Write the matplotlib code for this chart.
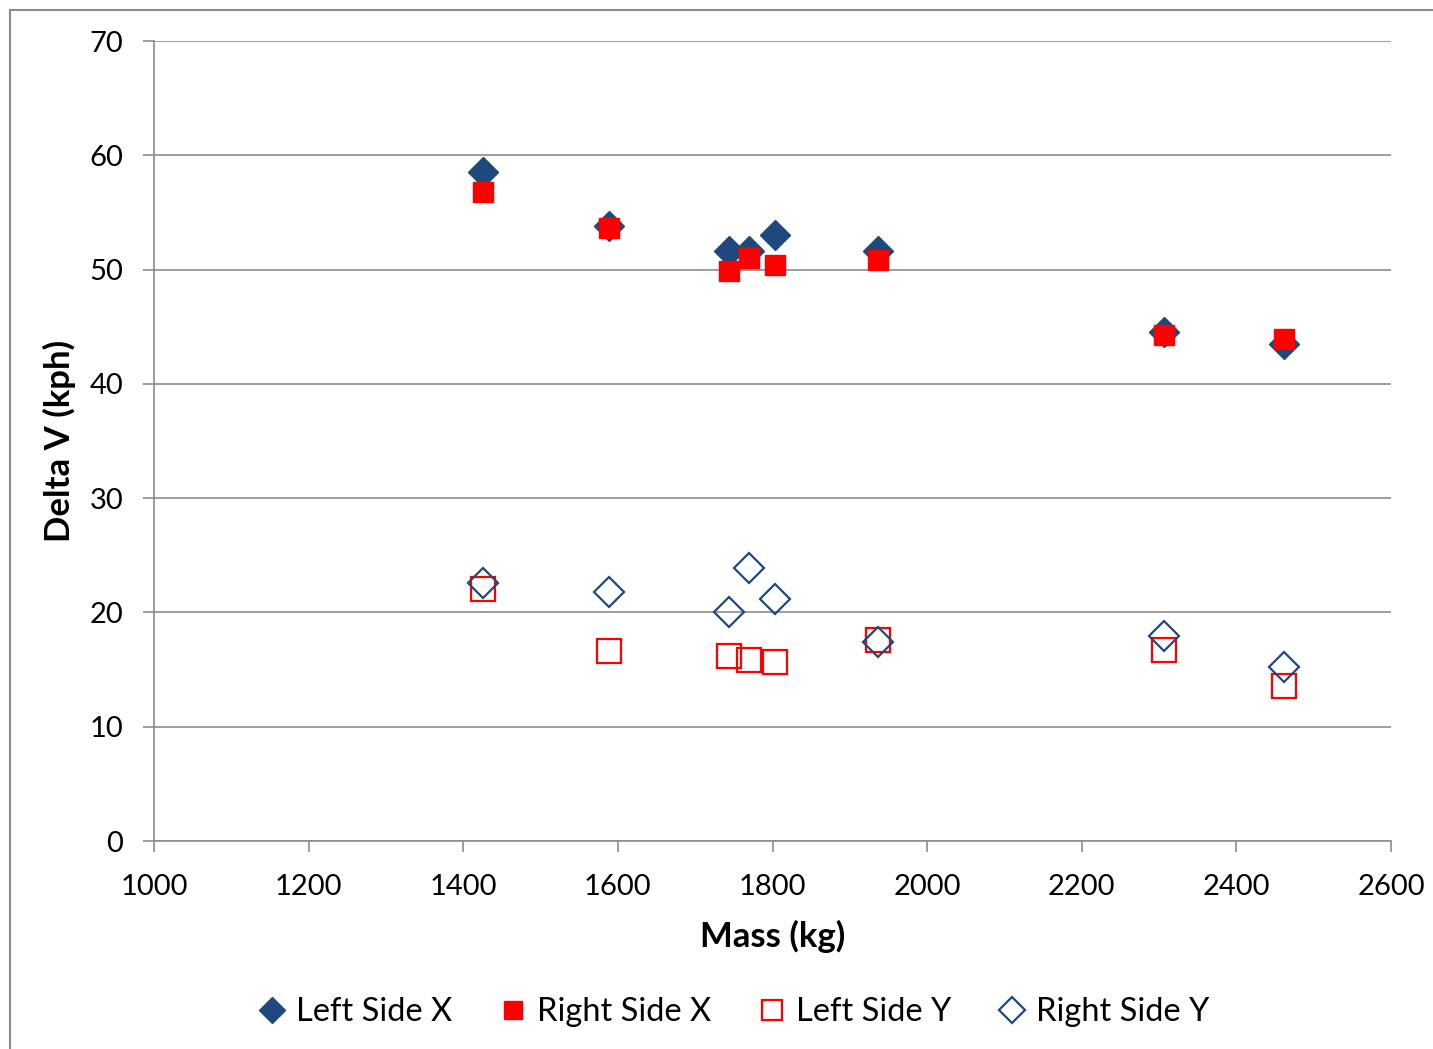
import matplotlib
matplotlib.use('Agg')
import matplotlib.pyplot as plt
from matplotlib.lines import Line2D

plt.rcParams['font.family'] = ['Lato', 'DejaVu Sans']

# data
mass = [1426, 1588, 1744, 1769, 1803, 1936, 2306, 2462]
left_x = [58.5, 53.8, 51.65, 51.65, 53.0, 51.65, 44.5, 43.5]
right_x = [56.8, 53.6, 49.9, 51.0, 50.4, 50.8, 44.3, 43.9]
left_y = [22.05, 16.65, 16.2, 15.8, 15.7, 17.6, 16.7, 13.55]
right_y = [22.6, 21.8, 20.05, 23.85, 21.2, 17.45, 17.9, 15.25]

xticks = [1000, 1200, 1400, 1600, 1800, 2000, 2200, 2400, 2600]
yticks = [0, 10, 20, 30, 40, 50, 60, 70]

blue = '#1F497D'
red = '#FF0000'
grid = '#8C8C8C'
fs = 21

fig = plt.figure(figsize=(14.33, 10.49), dpi=100)
ax = fig.add_axes([154/1433, 1-841/1049, (1391-154)/1433, (841-41)/1049])

ax.plot(mass, left_x, linestyle='none', marker='D', ms=15, color=blue, mec=blue, label='Left Side X', zorder=3)
ax.plot(mass, right_x, linestyle='none', marker='s', ms=15, color=red, mec=red, label='Right Side X', zorder=4)
ax.plot(mass, left_y, linestyle='none', marker='s', ms=17, mfc='none', mec=red, mew=1.6, label='Left Side Y', zorder=5)
ax.plot(mass, right_y, linestyle='none', marker='D', ms=15, mfc='none', mec=blue, mew=1.6, label='Right Side Y', zorder=6)

ax.set_xlim(1000, 2600)
ax.set_ylim(0, 70)
ax.set_xticks(xticks)
ax.set_yticks(yticks)
ax.tick_params(axis='both', labelsize=fs, colors=grid, labelcolor='black', length=8, width=1.2, direction='out')
ax.tick_params(axis='y', pad=14)
ax.tick_params(axis='x', pad=16)
ax.yaxis.grid(True, color=grid, linewidth=1.2)
ax.set_axisbelow(True)
for s in ['top', 'right']:
    ax.spines[s].set_visible(False)
for s in ['left', 'bottom']:
    ax.spines[s].set_color(grid)
    ax.spines[s].set_linewidth(1.2)

ax.set_xlabel('Mass (kg)', fontsize=25, fontweight='bold', labelpad=14)
ax.set_ylabel('Delta V (kph)', fontsize=25, fontweight='bold', labelpad=10)

ax.legend(loc='center', bbox_to_anchor=(735/1433, 1-1012/1049), bbox_transform=fig.transFigure,
          ncol=4, frameon=False, fontsize=23.5, markerscale=0.85, handlelength=0.7,
          handletextpad=0.4, columnspacing=1.5)

# chart area border (top and left visible)
fig.add_artist(Line2D([10/1433, 1], [1-10/1049, 1-10/1049], color='#8C8C8C', lw=1.5))
fig.add_artist(Line2D([10/1433, 10/1433], [0, 1-10/1049], color='#8C8C8C', lw=1.5))

fig.savefig('out.png', dpi=100)
